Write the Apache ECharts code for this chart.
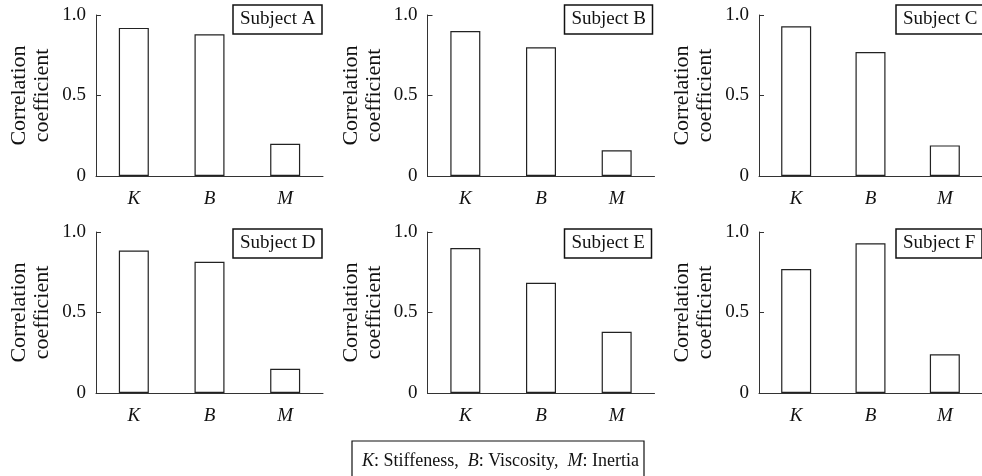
<!DOCTYPE html>
<html>
<head>
<meta charset="utf-8">
<script src="https://cdn.jsdelivr.net/npm/echarts@6/dist/echarts.min.js"></script>
<style>html,body{margin:0;padding:0;background:#fff}#c{width:982px;height:476px}</style>
</head>
<body>
<div id="c"></div>
<script>
const categories = ['K', 'B', 'M'];
const subjects = ['Subject A', 'Subject B', 'Subject C', 'Subject D', 'Subject E', 'Subject F'];
const subjectA = [0.92, 0.88, 0.20];
const subjectB = [0.90, 0.80, 0.16];
const subjectC = [0.93, 0.77, 0.19];
const subjectD = [0.885, 0.815, 0.15];
const subjectE = [0.90, 0.685, 0.38];
const subjectF = [0.77, 0.93, 0.24];
const seriesValues = [subjectA, subjectB, subjectC, subjectD, subjectE, subjectF];
const yTicks = [0, 0.5, 1.0];
const yTickLabels = ['0', '0.5', '1.0'];

const FONT = '"Liberation Serif", "Times New Roman", serif';
const colLeft = [96, 427.5, 759];
const rowTop = [15, 232];
const gridW = 227, gridH = 161;
const boxTop = [5, 229];

const grids = [], xAxes = [], yAxes = [], series = [], titles = [];
for (let i = 0; i < 6; i++) {
  const r = Math.floor(i / 3), c = i % 3;
  grids.push({ left: colLeft[c], top: rowTop[r], width: gridW, height: gridH, containLabel: false });
  xAxes.push({
    type: 'category', gridIndex: i, data: categories, boundaryGap: true,
    axisLine: { lineStyle: { color: '#333', width: 1 } },
    axisTick: { inside: true, length: 5, lineStyle: { color: '#333' } },
    axisLabel: { fontFamily: FONT, fontStyle: 'italic', fontSize: 19, color: '#111', margin: 13 },
    splitLine: { show: false }
  });
  yAxes.push({
    type: 'value', gridIndex: i, min: 0, max: 1, interval: 0.5,
    name: 'Correlation\ncoefficient', nameLocation: 'middle', nameRotate: 90, nameGap: 42,
    nameTextStyle: { fontFamily: FONT, fontSize: 22, color: '#111', lineHeight: 23 },
    axisLine: { show: true, lineStyle: { color: '#333', width: 1 } },
    axisTick: { show: true, inside: true, length: 5, lineStyle: { color: '#333' } },
    axisLabel: {
      fontFamily: FONT, fontSize: 19, color: '#111', margin: 10,
      formatter: v => yTickLabels[yTicks.indexOf(v)] ?? String(v)
    },
    splitLine: { show: false }
  });
  series.push({
    type: 'bar', xAxisIndex: i, yAxisIndex: i, data: seriesValues[i], barWidth: 30,
    itemStyle: { color: '#fff', borderColor: '#222', borderWidth: 1.2 },
    silent: true, animation: false
  });
  titles.push({
    text: subjects[i], left: colLeft[c] + gridW - 90, top: boxTop[r],
    borderColor: '#111', borderWidth: 1.5, padding: [5, 7, 5, 7],
    textStyle: { fontFamily: FONT, fontSize: 19, fontWeight: 'normal', color: '#111', lineHeight: 19 }
  });
}

const chart = echarts.init(document.getElementById('c'), null, { renderer: 'canvas' });
chart.setOption({
  animation: false,
  backgroundColor: '#fff',
  title: titles,
  grid: grids, xAxis: xAxes, yAxis: yAxes, series: series,
  graphic: [
    { type: 'rect', shape: { x: 352, y: 441, width: 292, height: 42 },
      style: { fill: '#fff', stroke: '#111', lineWidth: 1.2 } },
    { type: 'text', left: 362, top: 452,
      style: {
        text: '{i|K}: Stiffeness,  {i|B}: Viscosity,  {i|M}: Inertia',
        font: '18px ' + FONT, fill: '#111',
        rich: { i: { fontStyle: 'italic', fontFamily: FONT, fontSize: 18, fill: '#111' } }
      } }
  ]
});
</script>
</body>
</html>
